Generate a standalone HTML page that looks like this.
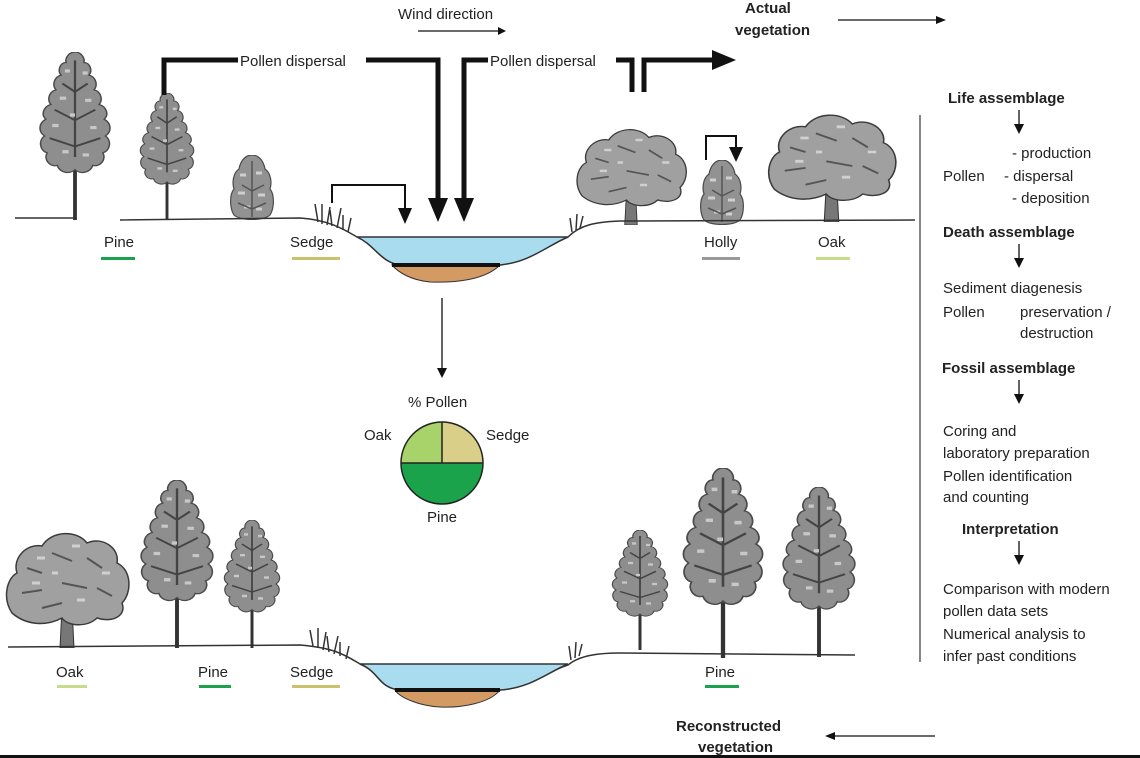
<!DOCTYPE html>
<html><head><meta charset="utf-8"><style>
html,body{margin:0;padding:0;background:#fff}
svg{display:block}
text{font-family:"Liberation Sans",sans-serif;font-size:15px;fill:#222}
.b{font-weight:bold}
</style></head><body>
<svg width="1140" height="758" viewBox="0 0 1140 758" xmlns="http://www.w3.org/2000/svg">
<defs>
<symbol id="pine" viewBox="0 0 60 160" preserveAspectRatio="none">
<rect x="28.5" y="90" width="3" height="70" fill="#333"/>
<path d="M30,0 C35,0 38,6 37,10 C42,10 44,18 41,22 C47,24 48,32 45,36 C51,38 52,46 49,50 C55,52 57,60 53,64 C59,68 59,76 54,80 C59,84 58,94 52,96 C55,102 50,110 44,108 C42,115 34,117 30,112 C26,117 18,115 16,108 C10,110 5,102 8,96 C2,94 1,84 6,80 C1,76 1,68 7,64 C3,60 5,52 11,50 C8,46 9,38 15,36 C12,32 13,24 19,22 C16,18 18,10 23,10 C22,6 25,0 30,0Z" fill="#8e8e8e" stroke="#4a4a4a" stroke-width="1.2"/>
<path d="M30,8 V100 M20,30 l10,8 M40,30 l-10,8 M14,55 l16,10 M46,55 l-16,10 M10,82 l20,8 M50,82 l-20,8" stroke="#444" stroke-width="1.8" fill="none"/>
<path d="M22,18 h4 M36,20 h4 M18,44 h5 M38,46 h5 M12,70 h5 M42,72 h5 M20,95 h5 M36,98 h5 M26,60 h4" stroke="#c8c8c8" stroke-width="3"/>
</symbol>
<symbol id="bush" viewBox="0 0 44 65" preserveAspectRatio="none">
<path d="M22,0 C30,0 34,8 35,14 C41,18 42,28 40,34 C45,40 44,54 40,60 C34,66 10,66 4,60 C0,54 -1,40 4,34 C2,28 3,18 9,14 C10,8 14,0 22,0Z" fill="#929292" stroke="#4a4a4a" stroke-width="1.2"/>
<path d="M10,20 h6 M26,18 h6 M8,38 h7 M28,40 h7 M14,52 h6 M26,54 h6" stroke="#cfcfcf" stroke-width="3"/>
<path d="M22,6 V62 M12,30 l10,6 M34,30 l-12,6 M8,48 l14,6 M36,48 l-14,6" stroke="#555" stroke-width="1.5"/>
</symbol>
<symbol id="oak" viewBox="0 0 130 120" preserveAspectRatio="none">
<path d="M58,120 L60,80 L70,80 L72,120Z" fill="#777" stroke="#333"/>
<path d="M10,85 C0,70 5,50 15,45 C10,30 25,15 40,18 C50,2 75,2 85,15 C100,8 118,20 115,35 C130,42 130,65 120,75 C125,88 110,95 95,90 C85,100 65,98 60,90 C45,98 25,98 10,85Z" fill="#a0a0a0" stroke="#3a3a3a" stroke-width="1.5"/>
<path d="M25,40 l15,5 M50,25 l20,8 M85,30 l15,10 M20,65 l20,-3 M60,55 l25,5 M95,60 l15,8 M40,80 l20,-5" stroke="#555" stroke-width="2"/>
<path d="M35,30 h8 M70,18 h8 M100,45 h8 M30,55 h8 M75,72 h8 M50,45 h6" stroke="#d0d0d0" stroke-width="3"/>
</symbol>
</defs>

<!-- top trees -->
<use href="#pine" x="37" y="52" width="76" height="168"/>
<use href="#pine" x="138" y="93" width="58" height="127"/>
<use href="#bush" x="230" y="155" width="44" height="65"/>
<use href="#oak" x="573" y="125" width="116" height="100"/>
<use href="#bush" x="700" y="160" width="44" height="65"/>
<use href="#oak" x="764" y="110" width="135" height="112"/>

<!-- top ground -->
<path d="M15,218 L75,218" stroke="#333" stroke-width="1.5" fill="none"/>
<path d="M120,220 L300,218 C330,220 345,230 357,237 C375,245 380,262 400,265 L500,265 C530,260 545,245 568,237 C580,225 595,222 620,221 L915,220" stroke="#333" stroke-width="1.5" fill="none"/>
<path d="M357,237 L568,237 C545,247 530,262 500,265 L400,265 C380,262 375,245 357,237Z" fill="#a9dcef" stroke="#333" stroke-width="1.5"/>
<path d="M392,265 L500,265 C485,280 455,283 430,282 C410,280 398,272 392,265Z" fill="#d49a63" stroke="#333"/>
<rect x="392" y="263" width="108" height="4" fill="#111"/>
<path d="M318,222 l-3,-18 M322,224 l0,-20 M327,225 l3,-18 M332,226 l-2,-16 M337,228 l4,-20 M343,230 l0,-15 M348,232 l3,-14 M572,232 l-2,-14 M576,230 l1,-16 M580,228 l3,-12" stroke="#333" stroke-width="1.5"/>

<!-- dispersal arrows -->
<g fill="none" stroke="#111" stroke-width="5">
<path d="M164,95 V60 H438 V200"/>
<path d="M464,200 V60 H632 V92"/>
<path d="M644,92 V60 H715"/>
</g>
<polygon points="428,198 448,198 438,222" fill="#111"/>
<polygon points="454,198 474,198 464,222" fill="#111"/>
<polygon points="712,50 736,60 712,70" fill="#111"/>
<rect x="238" y="51" width="128" height="18" fill="#fff"/>
<text x="240" y="66">Pollen dispersal</text>
<rect x="488" y="51" width="128" height="18" fill="#fff"/>
<text x="490" y="66">Pollen dispersal</text>
<path d="M332,203 V185 H405 V212" fill="none" stroke="#111" stroke-width="2"/>
<polygon points="398,208 412,208 405,224" fill="#111"/>
<path d="M706,160 V136 H736 V150" fill="none" stroke="#111" stroke-width="2"/>
<polygon points="729,147 743,147 736,162" fill="#111"/>

<text x="398" y="19">Wind direction</text>
<path d="M418,31 H500" stroke="#111" stroke-width="1.3"/><polygon points="498,27 506,31 498,35" fill="#111"/>
<text class="b" x="745" y="13">Actual</text>
<text class="b" x="735" y="35">vegetation</text>
<path d="M838,20 H938" stroke="#111" stroke-width="1.3"/><polygon points="936,16 946,20 936,24" fill="#111"/>

<!-- top labels -->
<text x="104" y="247">Pine</text><rect x="101" y="257" width="34" height="3" fill="#1aa34a"/>
<text x="290" y="247">Sedge</text><rect x="292" y="257" width="48" height="3" fill="#c9c26a"/>
<text x="704" y="247">Holly</text><rect x="702" y="257" width="38" height="3" fill="#999"/>
<text x="818" y="247">Oak</text><rect x="816" y="257" width="34" height="3" fill="#c6dc8a"/>

<!-- center arrow & pie -->
<path d="M442,298 V370" stroke="#111" stroke-width="1.3"/><polygon points="437,368 447,368 442,378" fill="#111"/>
<text x="408" y="407">% Pollen</text>
<text x="364" y="440">Oak</text>
<text x="486" y="440">Sedge</text>
<text x="427" y="522">Pine</text>
<path d="M401,463 A41,41 0 0 0 483,463Z" fill="#1aa34a"/>
<path d="M442,463 V422 A41,41 0 0 0 401,463Z" fill="#a8d26a"/>
<path d="M442,463 V422 A41,41 0 0 1 483,463Z" fill="#d9cf88"/>
<circle cx="442" cy="463" r="41" fill="none" stroke="#222" stroke-width="1.5"/>
<path d="M401,463 H483 M442,463 V422" stroke="#222" stroke-width="1.5"/>

<!-- bottom trees -->
<use href="#oak" x="2" y="528" width="130" height="120"/>
<use href="#pine" x="138" y="480" width="78" height="168"/>
<use href="#pine" x="222" y="520" width="60" height="128"/>
<use href="#pine" x="610" y="530" width="60" height="120"/>
<use href="#pine" x="680" y="468" width="86" height="190"/>
<use href="#pine" x="780" y="487" width="78" height="170"/>

<!-- bottom ground -->
<path d="M8,647 L300,645 C335,648 345,655 360,664 C380,672 378,688 400,690 L500,690 C530,688 545,672 568,665 C580,655 600,653 620,653 L855,655" stroke="#333" stroke-width="1.5" fill="none"/>
<path d="M360,664 L568,664 C545,674 530,688 500,690 L400,690 C378,688 380,672 360,664Z" fill="#a9dcef" stroke="#333" stroke-width="1.5"/>
<path d="M395,690 L500,690 C490,703 462,708 440,707 C420,706 400,698 395,690Z" fill="#d49a63" stroke="#333"/>
<rect x="395" y="688" width="105" height="4" fill="#111"/>
<path d="M313,646 l-3,-16 M318,648 l0,-20 M323,650 l3,-18 M329,652 l-2,-16 M334,654 l4,-18 M340,656 l0,-14 M346,659 l3,-13 M571,660 l-2,-14 M575,658 l1,-16 M579,656 l3,-12" stroke="#333" stroke-width="1.5"/>

<text x="56" y="677">Oak</text><rect x="57" y="685" width="30" height="3" fill="#c6dc8a"/>
<text x="198" y="677">Pine</text><rect x="199" y="685" width="32" height="3" fill="#1aa34a"/>
<text x="290" y="677">Sedge</text><rect x="292" y="685" width="48" height="3" fill="#c9c26a"/>
<text x="705" y="677">Pine</text><rect x="705" y="685" width="34" height="3" fill="#1aa34a"/>

<text class="b" x="676" y="731">Reconstructed</text>
<text class="b" x="698" y="752">vegetation</text>
<path d="M935,736 H833" stroke="#111" stroke-width="1.3"/><polygon points="835,732 825,736 835,740" fill="#111"/>
<rect x="0" y="755" width="1140" height="3" fill="#111"/>

<!-- right panel -->
<path d="M920,115 V662" stroke="#444" stroke-width="1.3"/>
<g>
<text class="b" x="948" y="103">Life assemblage</text>
<path d="M1019,110 V126" stroke="#111" stroke-width="1.3"/><polygon points="1014,124 1024,124 1019,134" fill="#111"/>
<text x="1012" y="158">- production</text>
<text x="943" y="181">Pollen</text><text x="1004" y="181">- dispersal</text>
<text x="1012" y="203">- deposition</text>
<text class="b" x="943" y="237">Death assemblage</text>
<path d="M1019,244 V260" stroke="#111" stroke-width="1.3"/><polygon points="1014,258 1024,258 1019,268" fill="#111"/>
<text x="943" y="293">Sediment diagenesis</text>
<text x="943" y="317">Pollen</text><text x="1020" y="317">preservation /</text>
<text x="1020" y="338">destruction</text>
<text class="b" x="942" y="373">Fossil assemblage</text>
<path d="M1019,380 V396" stroke="#111" stroke-width="1.3"/><polygon points="1014,394 1024,394 1019,404" fill="#111"/>
<text x="943" y="436">Coring and</text>
<text x="943" y="458">laboratory preparation</text>
<text x="943" y="481">Pollen identification</text>
<text x="943" y="502">and counting</text>
<text class="b" x="962" y="534">Interpretation</text>
<path d="M1019,541 V557" stroke="#111" stroke-width="1.3"/><polygon points="1014,555 1024,555 1019,565" fill="#111"/>
<text x="943" y="594">Comparison with modern</text>
<text x="943" y="616">pollen data sets</text>
<text x="943" y="639">Numerical analysis to</text>
<text x="943" y="661">infer past conditions</text>
</g>
</svg>
</body></html>
